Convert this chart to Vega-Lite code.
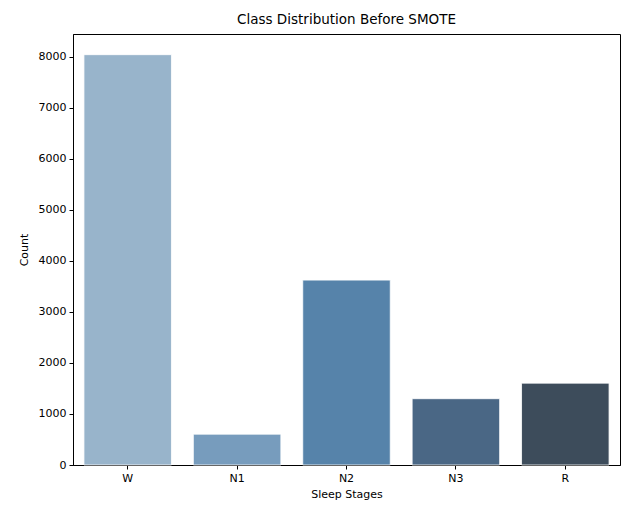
{
  "$schema": "https://vega.github.io/schema/vega-lite/v6.json",
  "autosize": {"type": "none"},
  "padding": {"left": 73, "top": 34, "right": 22, "bottom": 49},
  "width": 547,
  "height": 431,
  "background": "white",
  "title": {"text": "Class Distribution Before SMOTE", "font": "DejaVu Sans", "fontSize": 13.5, "fontWeight": "normal", "color": "#000000", "offset": 8},
  "data": {"values": [
    {"stage": "W", "count": 8045},
    {"stage": "N1", "count": 605},
    {"stage": "N2", "count": 3625},
    {"stage": "N3", "count": 1300},
    {"stage": "R", "count": 1605}
  ]},
  "mark": {"type": "bar", "stroke": "white", "strokeWidth": 0.8},
  "encoding": {
    "x": {
      "field": "stage", "type": "nominal", "sort": ["W", "N1", "N2", "N3", "R"],
      "title": "Sleep Stages",
      "scale": {"paddingInner": 0.2, "paddingOuter": 0.1},
      "axis": {"labelAngle": 0, "labelFont": "DejaVu Sans", "labelFontSize": 11, "labelColor": "#000000", "titleFont": "DejaVu Sans", "titleFontSize": 11, "titleFontWeight": "normal", "titleColor": "#000000", "tickColor": "#000000", "tickSize": 4, "domainColor": "#000000", "labelPadding": 3, "titlePadding": 5}
    },
    "y": {
      "field": "count", "type": "quantitative", "title": "Count",
      "scale": {"domain": [0, 8450], "nice": false},
      "axis": {"values": [0, 1000, 2000, 3000, 4000, 5000, 6000, 7000, 8000], "format": "d", "grid": false, "labelFont": "DejaVu Sans", "labelFontSize": 11, "labelColor": "#000000", "titleFont": "DejaVu Sans", "titleFontSize": 11, "titleFontWeight": "normal", "titleColor": "#000000", "tickColor": "#000000", "tickSize": 4, "domainColor": "#000000", "labelPadding": 3, "titlePadding": 9}
    },
    "color": {
      "field": "stage", "type": "nominal", "legend": null,
      "scale": {"domain": ["W", "N1", "N2", "N3", "R"], "range": ["#98b4cb", "#779cbd", "#5683aa", "#4a6785", "#3d4c5b"]}
    }
  },
  "config": {"view": {"stroke": "#000000", "strokeWidth": 1}}
}
